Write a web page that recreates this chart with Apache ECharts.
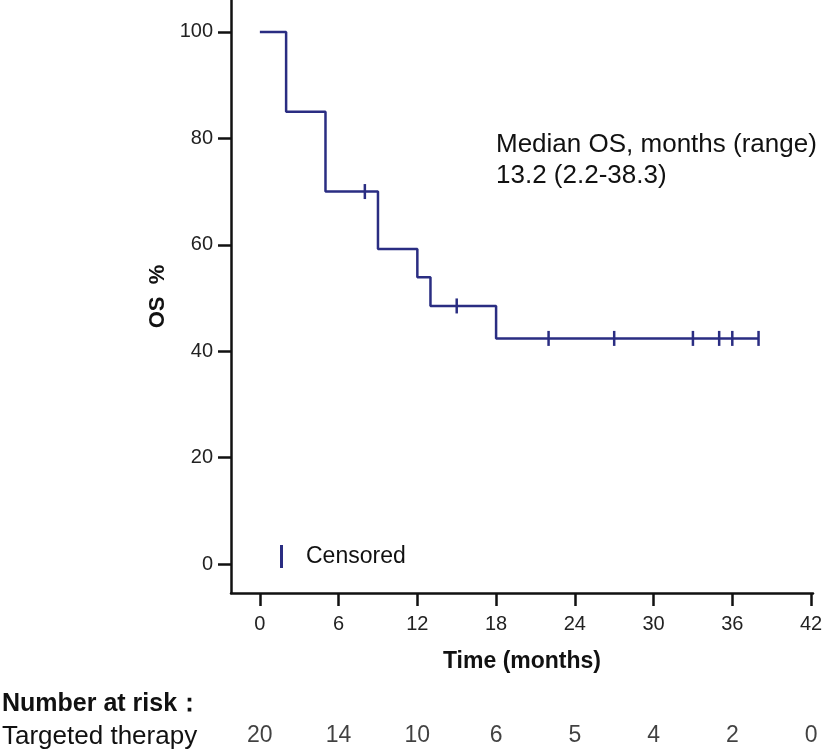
<!DOCTYPE html>
<html>
<head>
<meta charset="utf-8">
<script src="https://cdn.jsdelivr.net/npm/echarts@6/dist/echarts.min.js"></script>
<style>
  html, body { margin: 0; padding: 0; background: #fff; }
  #chart { width: 827px; height: 754px; }
</style>
</head>
<body>
<div id="chart"></div>
<script>
// KM step curve (time in months, OS %)
const kmTimes = [0, 2, 5, 9, 12, 13, 18, 38];
const kmSurv = [100, 85, 70, 59.2, 53.9, 48.5, 42.4, 42.4];
// censored marks
const censorTimes = [8, 15, 22, 27, 33, 35, 36, 38];
const censorSurv = [70, 48.5, 42.4, 42.4, 42.4, 42.4, 42.4, 42.4];
// axes
const xTicks = [0, 6, 12, 18, 24, 30, 36, 42];
const yTicks = [0, 20, 40, 60, 80, 100];
// number at risk
const riskTimes = [0, 6, 12, 18, 24, 30, 36, 42];
const riskCounts = [20, 14, 10, 6, 5, 4, 2, 0];

const navy = '#2a2d82';
const font = 'Liberation Sans, Arial, sans-serif';

const chart = echarts.init(document.getElementById('chart'));

const kmData = kmTimes.map((t, i) => [t, kmSurv[i]]);
const censorData = censorTimes.map((t, i) => [t, censorSurv[i]]);
const riskData = riskTimes.map((t, i) => [t, 0.5, riskCounts[i]]);

chart.setOption({
  animation: false,
  textStyle: { fontFamily: font },
  grid: [
    { left: 231, right: 14, top: 0, bottom: 161 },
    { left: 231, right: 14, top: 719, height: 34 }
  ],
  legend: {
    data: ['Censored'],
    left: 275,
    top: 540,
    icon: 'rect',
    itemWidth: 3,
    itemHeight: 23,
    textStyle: { fontSize: 23, color: '#111', fontFamily: font, padding: [0, 0, 0, 18] }
  },
  xAxis: [
    {
      type: 'value', gridIndex: 0,
      min: -2.2, max: 42.15,
      splitLine: { show: false },
      axisLine: { show: true, onZero: false, lineStyle: { color: '#111', width: 2.5 } },
      axisTick: { show: true, length: 13, customValues: xTicks, lineStyle: { color: '#111', width: 2.5 } },
      axisLabel: { customValues: xTicks, fontSize: 20, color: '#222', margin: 21, fontFamily: font },
      name: 'Time (months)',
      nameLocation: 'middle',
      nameGap: 57,
      nameTextStyle: { fontSize: 23, fontWeight: 'bold', color: '#111', fontFamily: font }
    },
    {
      type: 'value', gridIndex: 1,
      min: -2.2, max: 42.15,
      show: false
    }
  ],
  yAxis: [
    {
      type: 'value', gridIndex: 0,
      min: -5.45, max: 106,
      splitLine: { show: false },
      axisLine: { show: true, onZero: false, lineStyle: { color: '#111', width: 2.5 } },
      axisTick: { show: true, length: 13, customValues: yTicks, lineStyle: { color: '#111', width: 2.5 } },
      axisLabel: { customValues: yTicks, fontSize: 20, color: '#222', margin: 18, fontFamily: font },
      name: 'OS  %',
      nameLocation: 'middle',
      nameRotate: 90,
      nameGap: 35,
      nameTextStyle: { fontSize: 22, fontWeight: 'bold', color: '#111', fontFamily: font }
    },
    {
      type: 'value', gridIndex: 1,
      min: 0, max: 1,
      show: false
    }
  ],
  graphic: [
    {
      type: 'text', left: 496, top: 129,
      style: {
        text: 'Median OS, months (range)\n13.2 (2.2-38.3)',
        font: '26px ' + font,
        lineHeight: 31,
        fill: '#111'
      }
    },
    {
      type: 'text', left: 2, top: 692,
      style: { text: 'Number at risk：', font: 'bold 25px ' + font, fill: '#111' }
    },
    {
      type: 'text', left: 2, top: 724,
      style: { text: 'Targeted therapy', font: '26px ' + font, fill: '#111' }
    }
  ],
  series: [
    {
      name: 'OS',
      type: 'line',
      xAxisIndex: 0, yAxisIndex: 0,
      step: 'end',
      data: kmData,
      symbol: 'none',
      lineStyle: { color: navy, width: 2.5 },
      itemStyle: { color: navy }
    },
    {
      name: 'Censored',
      type: 'scatter',
      xAxisIndex: 0, yAxisIndex: 0,
      data: censorData,
      symbol: 'rect',
      symbolSize: [2.5, 15],
      itemStyle: { color: navy, opacity: 1 }
    },
    {
      name: 'At risk',
      type: 'scatter',
      xAxisIndex: 1, yAxisIndex: 1,
      data: riskData,
      symbolSize: 0,
      label: {
        show: true,
        position: 'inside',
        formatter: p => p.value[2],
        fontSize: 23,
        color: '#111',
        fontFamily: font
      }
    }
  ]
});
</script>
</body>
</html>
